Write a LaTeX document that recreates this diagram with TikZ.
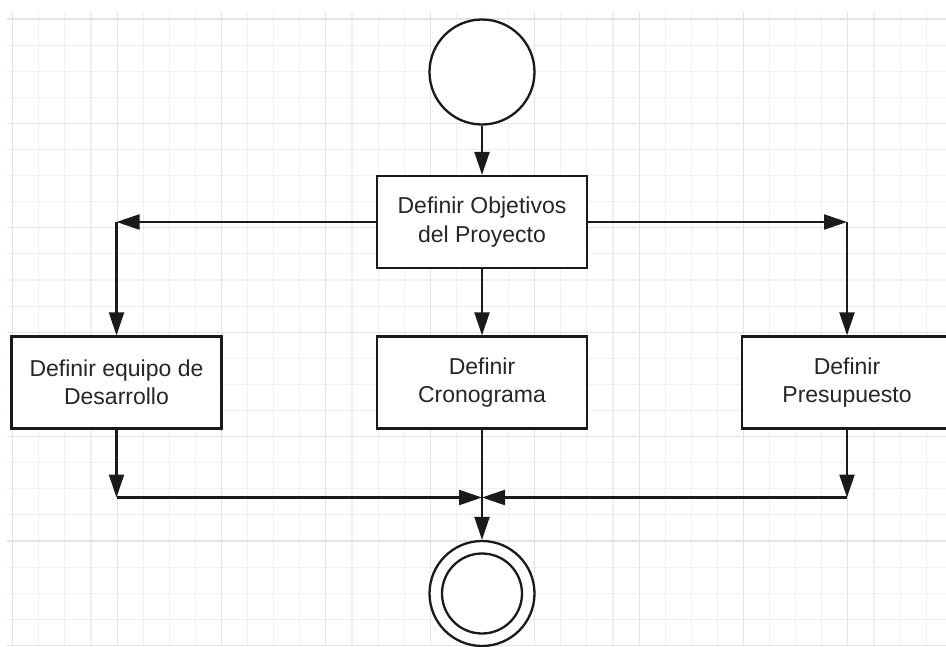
\documentclass[tikz,border=0pt]{standalone}
\usepackage{fontspec}
\setmainfont{Liberation Sans}
\usetikzlibrary{arrows.meta}

\definecolor{gridminor}{HTML}{EFEFEF}
\definecolor{gridmajor}{HTML}{E3E3E3}
\definecolor{ink}{HTML}{1A1A1A}
\definecolor{txt}{HTML}{262626}

\tikzset{
  stepbox/.style={draw=ink, line width=2.3pt, fill=white, rectangle,
    minimum width=210pt, minimum height=92pt, inner sep=0pt,
    align=center, text=txt, font=\fontsize{23}{28.3}\selectfont},
  startnode/.style={draw=ink, line width=2.3pt, fill=white, circle,
    minimum size=105pt, inner sep=0pt},
  flow/.style={draw=ink, line width=2.2pt,
    -{Triangle[length=23pt,width=15pt]}},
  gridline/.style={line width=1.1pt},
}

\begin{document}
\begin{tikzpicture}[x=1pt, y=-1pt]
  \useasboundingbox (0,0) rectangle (946,646);
  \clip (0,0) rectangle (946,646);
  \fill[white] (0,0) rectangle (946,646);

  % background grid: minor lines every 26.1, major every fourth line
  \foreach \k in {0,...,35}
    \draw[gridline, gridminor] ({12.7+26.1*\k},12) -- ({12.7+26.1*\k},646);
  \foreach \k in {0,...,24}
    \draw[gridline, gridminor] (7,{19+26.1*\k}) -- (946,{19+26.1*\k});
  \foreach \k in {0,4,...,32}
    \draw[gridline, gridmajor] ({12.7+26.1*\k},12) -- ({12.7+26.1*\k},646);
  \foreach \k in {0,4,...,24}
    \draw[gridline, gridmajor] (7,{19+26.1*\k}) -- (946,{19+26.1*\k});

  % activity nodes
  \node[startnode] (start) at (482,72) {};
  \node[stepbox] (obj)   at (482,222)   {Definir Objetivos\\del Proyecto};
  \node[stepbox] (dev)   at (116.5,382.5) {Definir equipo de\\Desarrollo};
  \node[stepbox] (crono) at (482,382.5) {Definir\\Cronograma};
  \node[stepbox] (pres)  at (847,382.5) {Definir\\Presupuesto};
  \node[startnode] (end) at (482,593.5) {};
  \draw[draw=ink, line width=2.3pt] (end.center) circle (40);

  % bends and the merge point
  \coordinate (cL) at (116.5,222);
  \coordinate (cR) at (847,222);
  \coordinate (bL) at (116.5,497.5);
  \coordinate (bR) at (847,497.5);
  \coordinate (junc) at (482,497.5);

  % fork
  \draw[flow] (start) -- (obj);
  \draw[flow] (obj.west) -- (cL);
  \draw[flow] (cL) -- (dev.north);
  \draw[flow] (obj) -- (crono);
  \draw[flow] (obj.east) -- (cR);
  \draw[flow] (cR) -- (pres.north);

  % join
  \draw[flow] (dev.south) -- (bL);
  \draw[flow] (bL) -- (junc);
  \draw[flow] (pres.south) -- (bR);
  \draw[flow] (bR) -- (junc);
  \draw[flow] (crono) -- (end);
\end{tikzpicture}
\end{document}
